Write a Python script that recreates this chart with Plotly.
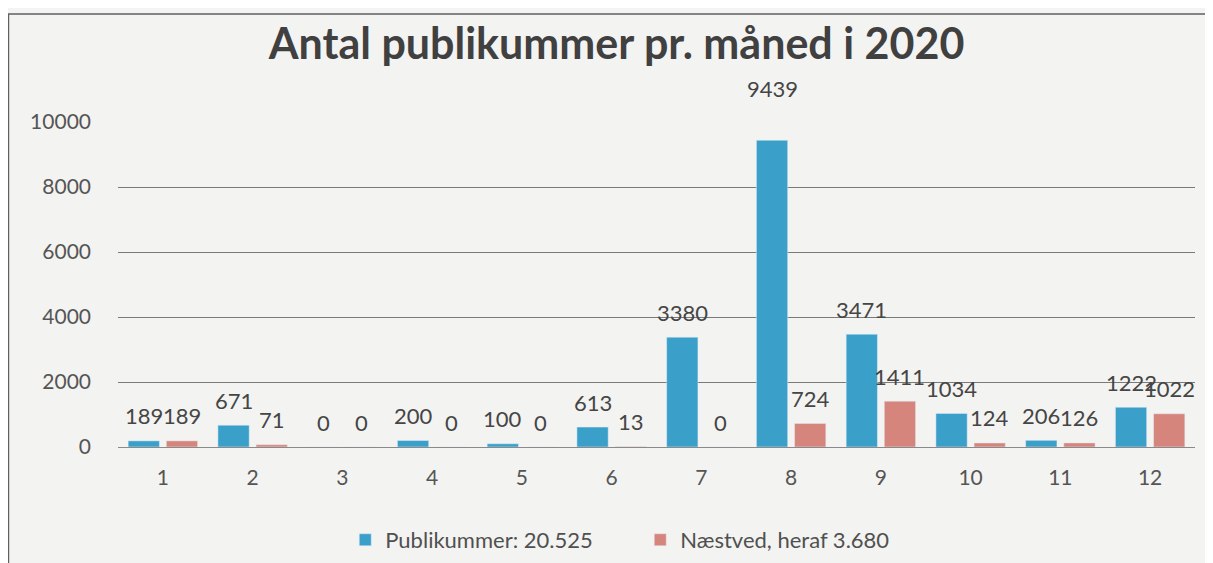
import plotly.graph_objects as go

months = ["1", "2", "3", "4", "5", "6", "7", "8", "9", "10", "11", "12"]
publikum = [189, 671, 0, 200, 100, 613, 3380, 9439, 3471, 1034, 206, 1222]
naestved = [189, 71, 0, 0, 0, 13, 0, 724, 1411, 124, 126, 1022]
name_pub = "Publikummer: 20.525"
name_nae = "Næstved, heraf 3.680"
title = "Antal publikummer pr. måned i 2020"
yticks = [0, 2000, 4000, 6000, 8000, 10000]

blue = "#3aa0c9"
red = "#d6857c"
font_fam = "Lato"
label_color = "#454545"

fig = go.Figure()
fig.add_trace(go.Bar(x=months, y=publikum, name=name_pub, marker_color=blue))
fig.add_trace(go.Bar(x=months, y=naestved, name=name_nae, marker_color=red))

W, H = 1205, 555
ML, MR, MT, MB = 110, 18, 114, 116
bargap = 0.15
cat_w = (W - ML - MR) / len(months)
bar_off = cat_w * (1 - bargap) / 4  # center offset of each bar within group

for vals, sign in ((publikum, -1), (naestved, 1)):
    top = max(vals)
    for i, v in enumerate(vals):
        fig.add_annotation(x=i, y=v, xref="x", yref="y", text=str(v), showarrow=False,
                           xshift=sign * bar_off, yshift=(52 if (v == top and v > 5000) else 25),
                           yanchor="middle",
                           font=dict(size=22, color=label_color, family=font_fam))

fig.update_layout(
    width=W, height=H,
    paper_bgcolor="#f3f3f1", plot_bgcolor="#f3f3f1",
    margin=dict(l=ML, r=MR, t=MT, b=MB, autoexpand=False),
    barmode="group", bargap=bargap, bargroupgap=0.18,
    title=dict(text="<b>" + title + "</b>", x=0.505, xanchor="center", xref="container",
               y=0.935, yanchor="middle", yref="container",
               font=dict(size=43, color="#404040", family=font_fam)),
    font=dict(family=font_fam, color="#555555"),
    showlegend=True,
    legend=dict(orientation="h", x=0.211, xanchor="left", y=-0.286, yanchor="middle",
                font=dict(size=22, color="#505050"), bgcolor="rgba(0,0,0,0)",
                itemwidth=30, tracegroupgap=0, entrywidth=250, entrywidthmode="pixels"),
    xaxis=dict(type="category", range=[-0.5, len(months) - 0.5],
               showgrid=False, showline=True, linecolor="#8a8a8a", linewidth=1,
               tickfont=dict(size=21, color="#555555"), ticks="", ticklen=0,
               ticklabelstandoff=12, automargin=False),
    yaxis=dict(range=[0, 10000], tickvals=yticks, ticktext=[str(v) for v in yticks],
               showgrid=True, gridcolor="#7a7a7a",
               gridwidth=1, zeroline=False, tickfont=dict(size=21, color="#555555"),
               ticks="", ticklabelstandoff=26, automargin=False),
)
fig.add_shape(type="rect", xref="paper", yref="paper",
              x0=-0.1017, x1=1.2, y0=-0.5, y1=1.332,
              line=dict(color="#606060", width=1.5), fillcolor="rgba(0,0,0,0)", layer="below")
fig.write_html("out.html")
